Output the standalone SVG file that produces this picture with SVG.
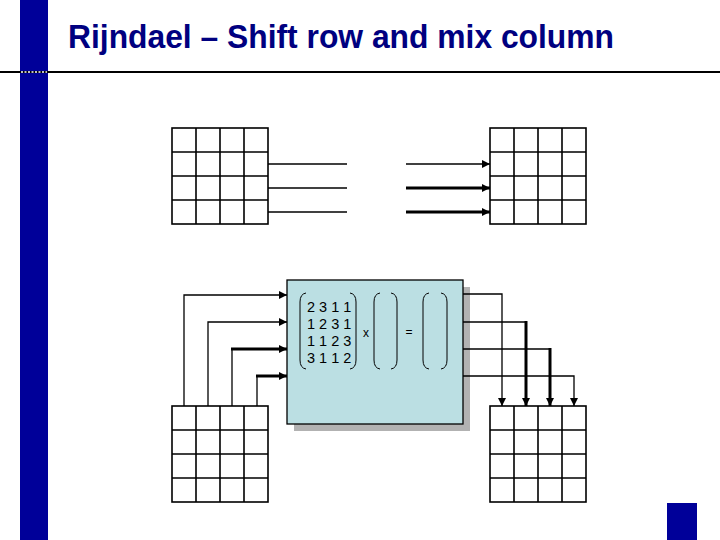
<svg xmlns="http://www.w3.org/2000/svg" width="720" height="540" viewBox="0 0 720 540">
<style>
.title{font-family:"Liberation Sans",Arial,sans-serif;font-weight:bold;font-size:33px;fill:#000080}
.grid{fill:#fff;stroke:#000;stroke-width:1.6}
.gl{stroke:#000;stroke-width:1.6}
.c{fill:none;stroke:#000;stroke-width:1.3}
.ct{fill:none;stroke:#000;stroke-width:3}
.br{fill:none;stroke:#000;stroke-width:1}
.mt{font-family:"Liberation Sans",Arial,sans-serif;font-size:14.5px;fill:#000}
.op{font-family:"Liberation Sans",Arial,sans-serif;font-size:12px;fill:#000}
</style>
<defs>
<marker id="ah" markerUnits="userSpaceOnUse" markerWidth="8" markerHeight="9" viewBox="0 0 8 9" refX="8" refY="4.5" orient="auto">
<path d="M0,0.5 L8,4.5 L0,8.5 Z" fill="#000"/>
</marker>
<g id="g4">
<rect class="grid" x="0" y="0" width="96" height="96"/>
<path class="gl" d="M24,0V96M48,0V96M72,0V96M0,24H96M0,48H96M0,72H96"/>
</g>
</defs>
<rect width="720" height="540" fill="#fff"/>
<g id="frame">
<rect x="20" y="0" width="28" height="540" fill="#000099"/>
<line x1="0" y1="72" x2="720" y2="72" stroke="#000" stroke-width="2"/>
<line x1="21" y1="72" x2="47" y2="72" stroke="#fff" stroke-width="1.5" stroke-dasharray="2,1.5"/>
<rect x="667" y="503" width="30" height="37" fill="#000099"/>
<text class="title" x="68" y="48" textLength="546" lengthAdjust="spacingAndGlyphs">Rijndael – Shift row and mix column</text>
</g>
<g id="grid-top-left"><use href="#g4" x="172" y="128"/></g>
<g id="grid-top-right"><use href="#g4" x="490" y="128"/></g>
<g id="grid-bottom-left"><use href="#g4" x="172" y="406"/></g>
<g id="grid-bottom-right"><use href="#g4" x="490" y="406"/></g>
<g id="mix-box">
<rect x="294" y="287" width="176" height="144" fill="#b2b2b2"/>
<rect x="287" y="280" width="176" height="144" fill="#bbdfe3" stroke="#000" stroke-width="1.3"/>
<path class="br" d="M306,293 Q300,294 300,302 V360 Q300,368 306,369"/>
<path class="br" d="M350,293 Q356,294 356,302 V360 Q356,368 350,369"/>
<text class="mt" x="307" y="312">2 3 1 1</text>
<text class="mt" x="307" y="329">1 2 3 1</text>
<text class="mt" x="307" y="346">1 1 2 3</text>
<text class="mt" x="307" y="363">3 1 1 2</text>
<text class="op" x="366" y="337" text-anchor="middle">x</text>
<path class="br" d="M380,293 Q374,294 374,302 V360 Q374,368 380,369"/>
<path class="br" d="M391,293 Q397,294 397,302 V360 Q397,368 391,369"/>
<text class="op" x="409" y="336" text-anchor="middle">=</text>
<path class="br" d="M429,293 Q423,294 423,302 V360 Q423,368 429,369"/>
<path class="br" d="M441,293 Q447,294 447,302 V360 Q447,368 441,369"/>
</g>
<g id="connectors">
<line class="c" x1="268" y1="164" x2="347" y2="164"/>
<line class="c" x1="268" y1="188" x2="347" y2="188"/>
<line class="c" x1="268" y1="212" x2="347" y2="212"/>
<line class="c" x1="406" y1="164" x2="490" y2="164" marker-end="url(#ah)"/>
<line class="ct" x1="406" y1="188" x2="490" y2="188" marker-end="url(#ah)"/>
<line class="ct" x1="406" y1="212" x2="490" y2="212" marker-end="url(#ah)"/>
<path class="c" d="M184,406 V295 H287" marker-end="url(#ah)"/>
<path class="c" d="M208,406 V322 H287" marker-end="url(#ah)"/>
<path class="c" d="M232,406 V349"/>
<line class="ct" x1="231" y1="349" x2="287" y2="349" marker-end="url(#ah)"/>
<path class="c" d="M257,406 V376"/>
<line class="ct" x1="256" y1="376" x2="287" y2="376" marker-end="url(#ah)"/>
<path class="c" d="M463,294 H502 V406" marker-end="url(#ah)"/>
<line class="c" x1="463" y1="322" x2="526" y2="322"/>
<line class="ct" x1="526" y1="321" x2="526" y2="406" marker-end="url(#ah)"/>
<line class="c" x1="463" y1="349" x2="550" y2="349"/>
<line class="ct" x1="550" y1="348" x2="550" y2="406" marker-end="url(#ah)"/>
<path class="c" d="M463,376 H574 V406" marker-end="url(#ah)"/>
</g>
</svg>
